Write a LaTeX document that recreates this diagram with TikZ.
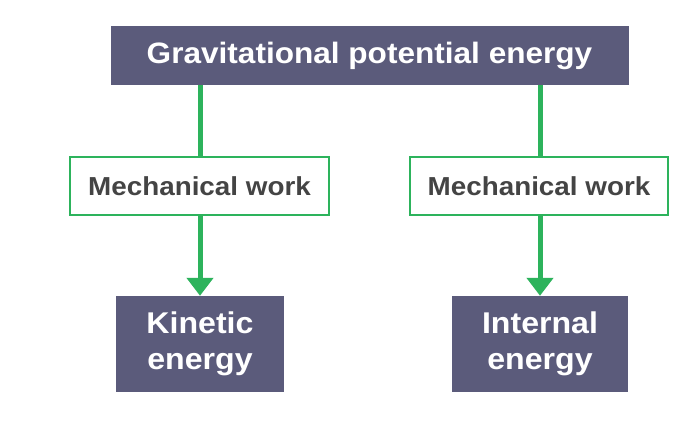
\documentclass[tikz,border=0pt]{standalone}
\usepackage{fontspec}
\setmainfont{Liberation Sans}
\newfontfamily\widesans[FakeStretch=1.07]{Liberation Sans}
\usetikzlibrary{arrows.meta}
\definecolor{slate}{HTML}{5B5B7B}
\definecolor{grn}{HTML}{2DB35C}
\definecolor{txtgray}{HTML}{444444}
\tikzset{
  dark/.style={fill=slate, draw=none, text=white, inner sep=0pt, align=center},
  mech/.style={draw=grn, line width=2.5pt, fill=white, text=txtgray, font=\widesans\bfseries\fontsize{26}{30}\selectfont, inner sep=0pt},
  link/.style={draw=grn, line width=5pt},
  arr/.style={link, -{Triangle[width=26pt,length=18pt]}}
}
\begin{document}
\begin{tikzpicture}[x=1pt,y=-1pt]
\useasboundingbox[fill=white] (0,0) rectangle (698,435);
\node[dark, font=\widesans\bfseries\fontsize{29.5}{34}\selectfont, minimum width=518pt, minimum height=59pt] (gpe) at (369.5,55.5) {Gravitational potential energy};
\node[mech, minimum width=259pt, minimum height=58pt] (mw1) at (199.5,186) {Mechanical work};
\node[mech, minimum width=258pt, minimum height=58pt] (mw2) at (539,186) {Mechanical work};
\node[dark, font=\widesans\bfseries\fontsize{30}{36}\selectfont, minimum width=168pt, minimum height=96pt] (ke) at (200,344) {Kinetic\\energy};
\node[dark, font=\widesans\bfseries\fontsize{30}{36}\selectfont, minimum width=176pt, minimum height=96pt] (ie) at (540,344) {Internal\\energy};
\draw[link] (gpe.south -| ke.north) -- (ke.north |- mw1.north);
\draw[link] (gpe.south -| ie.north) -- (ie.north |- mw2.north);
\draw[arr] (ke.north |- mw1.south) -- (ke.north);
\draw[arr] (ie.north |- mw2.south) -- (ie.north);
\end{tikzpicture}
\end{document}
